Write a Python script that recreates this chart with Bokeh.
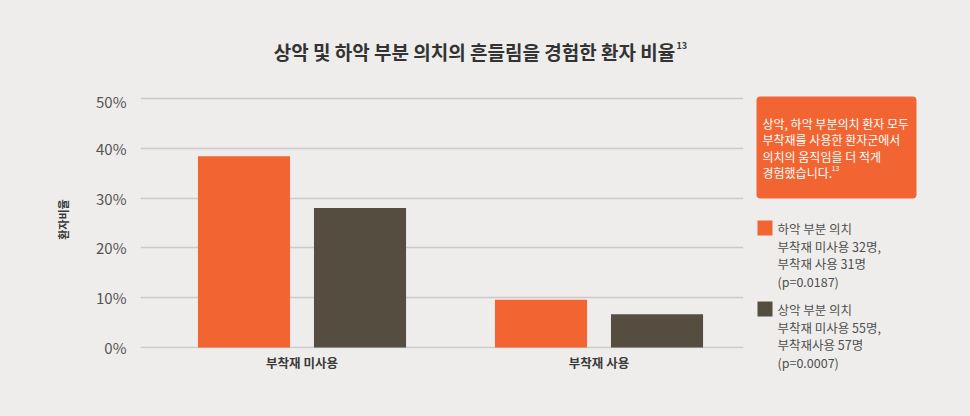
import numpy as np
from bokeh.plotting import figure
from bokeh.layouts import column, row
from bokeh.models import Range1d, FixedTicker, PrintfTickFormatter, BoxAnnotation
from bokeh.core.properties import value
from bokeh.embed import file_html
from bokeh.resources import INLINE

# ---- data ----
categories = ["부착재 미사용", "부착재 사용"]
series_names = ["하악 부분 의치", "상악 부분 의치"]
lower_pct = [38.4, 9.6]   # 하악 부분 의치
upper_pct = [28.0, 6.7]   # 상악 부분 의치
y_ticks = [0, 10, 20, 30, 40, 50]
title_text = "상악 및 하악 부분 의치의 흔들림을 경험한 환자 비율"
title_ref = "13"
y_label = "환자비율"
callout_lines = ["상악, 하악 부분의치 환자 모두", "부착재를 사용한 환자군에서",
                 "의치의 움직임을 더 적게", "경험했습니다."]
callout_ref = "13"
legend_lower = [series_names[0], "부착재 미사용 32명,", "부착재 사용 31명", "(p=0.0187)"]
legend_upper = [series_names[1], "부착재 미사용 55명,", "부착재사용 57명", "(p=0.0007)"]

# ---- style ----
BG = "#EEEDEB"
ORANGE = "#F26532"
DARK = "#554E40"
GRID = "#CACACA"
FONT = "Noto Sans CJK KR"

W, H = 970, 416
HEAD = 90          # header height
CW = 750           # chart figure width
FL, FR, FB = 140, 743, 348  # frame edges (canvas px)


def no_align(f):
    try:
        f.frame_align = False
    except Exception:
        pass


def plain_fig(w, h, xr, yr):
    f = figure(width=w, height=h, output_backend="svg", toolbar_location=None,
               x_range=xr, y_range=yr, x_axis_location=None, y_axis_location=None,
               min_border=0)
    f.background_fill_color = BG
    f.border_fill_color = BG
    f.outline_line_color = None
    f.grid.visible = False
    no_align(f)
    return f


# ---- header with title ----
head = plain_fig(W, HEAD, Range1d(0, W), Range1d(HEAD, 0))
head.text(x=[474], y=[51], text=[title_text], text_font=value(FONT), text_font_size="19px",
          text_font_style="bold", text_color="#333333", text_align="center",
          text_baseline="middle")
head.text(x=[676], y=[45], text=[title_ref], text_font=value(FONT), text_font_size="9px",
          text_font_style="bold", text_color="#333333", text_align="left",
          text_baseline="middle")

# ---- chart ----
p = figure(width=CW, height=H - HEAD, output_backend="svg", toolbar_location=None,
           x_range=Range1d(-0.5438, 1.4865), y_range=Range1d(-0.2, 51.6),
           min_border_left=FL, min_border_right=CW - FR,
           min_border_top=0, min_border_bottom=H - FB)
p.background_fill_color = BG
p.border_fill_color = BG
p.outline_line_color = None
no_align(p)

x = np.arange(len(categories))
off, bw = 0.1953, 0.31
p.vbar(x=x - off, top=lower_pct, width=bw, color=ORANGE, line_color=None)
p.vbar(x=x + off, top=upper_pct, width=bw, color=DARK, line_color=None)

p.xgrid.visible = False
p.ygrid.grid_line_color = GRID
p.ygrid.grid_line_width = 1.5
p.yaxis.ticker = FixedTicker(ticks=y_ticks)
p.yaxis.formatter = PrintfTickFormatter(format="%d%%")
p.yaxis.axis_line_color = None
p.yaxis.major_tick_line_color = None
p.yaxis.minor_tick_line_color = None
p.yaxis.major_tick_out = 0
p.yaxis.minor_tick_out = 0
p.yaxis.major_label_standoff = 14
p.yaxis.major_label_text_font = FONT
p.yaxis.major_label_text_font_size = "15px"
p.yaxis.major_label_text_color = "#555555"
p.yaxis.axis_label = y_label
p.yaxis.axis_label_text_font = FONT
p.yaxis.axis_label_text_font_size = "11px"
p.yaxis.axis_label_text_font_style = "bold"
p.yaxis.axis_label_text_color = "#3A3A3A"
p.yaxis.axis_label_standoff = 22

p.xaxis.ticker = FixedTicker(ticks=list(x))
p.xaxis.major_label_overrides = {int(i): c for i, c in zip(x, categories)}
p.xaxis.axis_line_color = None
p.xaxis.major_tick_line_color = None
p.xaxis.minor_tick_line_color = None
p.xaxis.major_tick_out = 0
p.xaxis.minor_tick_out = 0
p.xaxis.major_label_standoff = 4
p.xaxis.major_label_text_font = FONT
p.xaxis.major_label_text_font_size = "12.5px"
p.xaxis.major_label_text_font_style = "bold"
p.xaxis.major_label_text_color = "#3A3A3A"

# ---- side panel: callout + legend (canvas px coordinates) ----
side = plain_fig(W - CW, H - HEAD, Range1d(CW, W), Range1d(H, HEAD))
side.add_layout(BoxAnnotation(left=756, right=916, top=96, bottom=198,
                              fill_color=ORANGE, fill_alpha=1.0, line_color=None,
                              border_radius=4, level="underlay"))
side.text(x=[762] * len(callout_lines), y=[123 + i * 16.3 for i in range(len(callout_lines))],
          text=callout_lines, text_font=value(FONT), text_font_size="12px",
          text_color="white", text_baseline="middle")
side.text(x=[831], y=[167], text=[callout_ref], text_font=value(FONT), text_font_size="7px",
          text_color="white", text_baseline="middle")

for block, color, top in ((legend_lower, ORANGE, 220), (legend_upper, DARK, 301)):
    side.quad(left=[757], right=[772], top=[top], bottom=[top + 15],
              fill_color=color, line_color=None)
    side.text(x=[777] * len(block), y=[top + 8 + i * 17.5 for i in range(len(block))],
              text=block, text_font=value(FONT), text_font_size="12.5px",
              text_color="#4F4F4F", text_baseline="middle")

body = row(p, side, spacing=0, styles={"background-color": BG})
layout = column(head, body, spacing=0, styles={"background-color": BG})
open("out.html", "w").write(file_html(layout, INLINE))
